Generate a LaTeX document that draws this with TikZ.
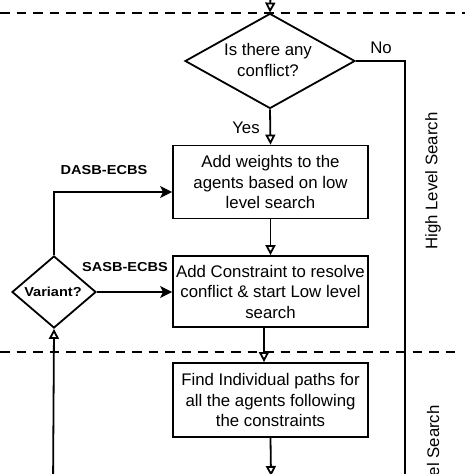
\documentclass[tikz,border=0pt]{standalone}
\usepackage{fontspec}
\setmainfont{Liberation Sans}
\newfontfamily\lblfont[FakeStretch=1.12]{Liberation Sans}
\usetikzlibrary{shapes.geometric,arrows.meta}
\begin{document}
\begin{tikzpicture}[x=1pt,y=-1pt,line width=1.8pt,
  txt/.style={font=\fontsize{16.8}{20.5}\selectfont, inner sep=0pt, align=center},
  lbl/.style={font=\lblfont\bfseries\fontsize{13}{15}\selectfont, inner sep=0pt},
  procbox/.style={draw, minimum width=195pt, minimum height=73pt, inner sep=0pt, align=center, font=\fontsize{16.8}{20.5}\selectfont},
  decis/.style={draw, diamond, inner sep=0pt},
  openarr/.style={-{Triangle[open,length=10pt,width=10pt]}},
  fillarr/.style={-{Stealth[length=12pt,width=12pt,inset=3pt]}},
  sep/.style={dash pattern=on 9.5pt off 7pt, line width=1.8pt}]
\useasboundingbox (0,0) rectangle (474,474);
% separators
\draw[sep] (0,13) -- (465,13);
\draw[sep] (0,352) -- (462,352);
% nodes
\node[decis, minimum width=170pt, minimum height=95pt] (d1) at (270,61) {};
\node[txt] (d1t) at (268,60) {Is there any\\conflict?};
\node[procbox] (b1) at (270.5,182) {Add weights to the\\agents based on low\\level search};
\node[procbox, minimum height=71pt] (b2) at (270.5,291.5) {Add Constraint to resolve\\conflict \& start Low level\\search};
\node[procbox, minimum height=74pt] (b3) at (270.5,400) {Find Individual paths for\\all the agents following\\the constraints};
\node[decis, minimum width=84pt, minimum height=72pt] (v) at (54,292) {};
\node[lbl] (vt) at (53,292) {Variant?};
% labels
\node[txt] (yes) at (246,128) {Yes};
\node[txt] (no) at (381,48) {No};
\node[lbl] (dasb) at (104,170) {DASB-ECBS};
\node[lbl] (sasb) at (125,267) {SASB-ECBS};
\node[txt, rotate=90] (hls) at (433,181) {High Level Search};
\node[txt, rotate=90] (lls) at (433,472) {Low Level Search};
% coordinates
\coordinate (topin) at (271,-20);
\coordinate (rbot) at (405,490);
\coordinate (lbot) at (53,490);
\coordinate (bot) at (271,476);
\coordinate (c264) at (264,0);
% connectors
\draw[openarr] (topin) -- (d1.north);
\draw[openarr] (d1.south) -- (b1.north);
\draw (d1.east) -| (rbot);
\draw[openarr] (b1.south) -- (b2.north);
\draw[openarr] (b2.south -| c264) -- (b3.north -| c264);
\draw[openarr] (b3.south) -- (bot);
\draw[fillarr] (v.north) |- ([yshift=-10pt]b1.west);
\draw[fillarr] (v.east) -- (v.east -| b2.west);
\draw[openarr] (lbot) -- (v.south);
\end{tikzpicture}
\end{document}
